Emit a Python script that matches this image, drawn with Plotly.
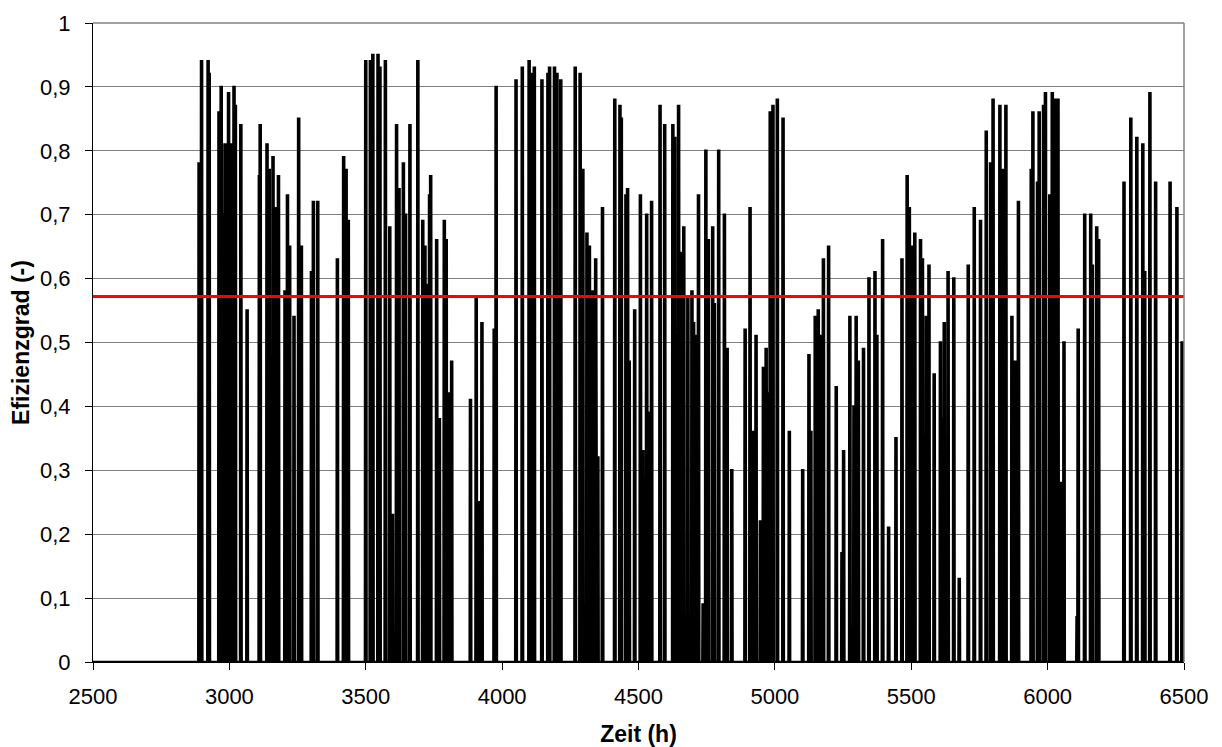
import plotly.graph_objects as go

# Spike (day) positions in hours and peak efficiency values
spike_hours = [
    2889, 2898, 2922, 2926, 2962, 2970, 2973, 2984, 2997, 3006, 3017, 3022, 3042, 3065,
    3110, 3113, 3138, 3146, 3160, 3169, 3180, 3204, 3213, 3221, 3237, 3254, 3264,
    3301, 3308, 3324, 3396, 3419, 3428, 3436,
    3500, 3517, 3526, 3545, 3552, 3572, 3588, 3598, 3613, 3622, 3638, 3646, 3662,
    3691, 3709, 3717, 3728, 3734, 3738, 3760, 3770, 3788, 3795, 3806, 3815,
    3884, 3905, 3913, 3926, 3971, 3978, 4051, 4074, 4099, 4110,
    4118, 4146, 4168, 4174, 4192, 4201, 4215, 4268, 4286, 4296, 4311, 4320, 4326,
    4332, 4343, 4351, 4368, 4413, 4432, 4437, 4454, 4460, 4466, 4486, 4507, 4516,
    4530, 4536, 4548, 4579, 4596, 4626, 4633, 4647, 4657, 4666, 4681, 4696, 4702,
    4708, 4720, 4737, 4747,
    4756, 4772, 4778, 4794, 4815, 4825, 4842, 4891, 4909, 4919, 4931, 4947, 4958,
    4968, 4974, 4983, 4993, 5009, 5030, 5053, 5102, 5125, 5132, 5148, 5159, 5170,
    5178, 5197, 5225, 5246, 5252, 5275, 5290, 5298, 5306, 5325, 5345, 5367, 5374, 5395,
    5417, 5444, 5466, 5485, 5493, 5505, 5513, 5534, 5541, 5555, 5565, 5584, 5607,
    5614, 5621, 5635, 5656, 5676, 5709, 5731, 5754, 5775, 5791, 5800, 5825, 5837,
    5847, 5869, 5880, 5893, 5940, 5946, 5963, 5969, 5985, 5992, 6008, 6017,
    6028, 6038, 6050, 6060, 6108, 6112, 6136, 6158, 6164, 6180, 6187,
    6280, 6305, 6327, 6349, 6356, 6375, 6396, 6449, 6474, 6493,
]
spike_values = [
    0.78, 0.94, 0.94, 0.92, 0.86, 0.90, 0.70, 0.81, 0.89, 0.81, 0.90, 0.87, 0.84, 0.55,
    0.76, 0.84, 0.81, 0.77, 0.79, 0.71, 0.76, 0.58, 0.73, 0.65, 0.54, 0.85, 0.65,
    0.61, 0.72, 0.72, 0.63, 0.79, 0.77, 0.69,
    0.94, 0.94, 0.95, 0.95, 0.93, 0.94, 0.68, 0.23, 0.84, 0.74, 0.78, 0.70, 0.84,
    0.94, 0.69, 0.65, 0.59, 0.73, 0.76, 0.66, 0.38, 0.69, 0.66, 0.42, 0.47,
    0.41, 0.57, 0.25, 0.53, 0.52, 0.90, 0.91, 0.93, 0.94, 0.92,
    0.93, 0.91, 0.92, 0.93, 0.93, 0.92, 0.91, 0.93, 0.92, 0.77, 0.67, 0.65, 0.52,
    0.58, 0.63, 0.32, 0.71, 0.88, 0.87, 0.85, 0.73, 0.74, 0.47, 0.55, 0.73, 0.33,
    0.70, 0.39, 0.72, 0.87, 0.84, 0.84, 0.82, 0.87, 0.64, 0.68, 0.57, 0.58, 0.53,
    0.51, 0.73, 0.09, 0.80,
    0.66, 0.68, 0.56, 0.80, 0.70, 0.49, 0.30, 0.52, 0.71, 0.36, 0.51, 0.22, 0.46,
    0.49, 0.42, 0.86, 0.87, 0.88, 0.85, 0.36, 0.30, 0.48, 0.36, 0.54, 0.55, 0.51,
    0.63, 0.65, 0.43, 0.17, 0.33, 0.54, 0.40, 0.54, 0.47, 0.49, 0.60, 0.61, 0.51, 0.66,
    0.21, 0.35, 0.63, 0.76, 0.71, 0.65, 0.67, 0.66, 0.63, 0.54, 0.62, 0.45, 0.50,
    0.38, 0.53, 0.61, 0.60, 0.13, 0.62, 0.71, 0.69, 0.83, 0.78, 0.88, 0.87, 0.77,
    0.87, 0.54, 0.47, 0.72, 0.77, 0.86, 0.75, 0.86, 0.87, 0.89, 0.73, 0.89,
    0.88, 0.88, 0.28, 0.50, 0.07, 0.52, 0.70, 0.70, 0.62, 0.68, 0.66,
    0.75, 0.85, 0.82, 0.81, 0.61, 0.89, 0.75, 0.75, 0.71, 0.50,
]

mean_efficiency = 0.572
x_range = [2500, 6500]
x_ticks = [2500, 3000, 3500, 4000, 4500, 5000, 5500, 6000, 6500]
y_ticks = [0, 0.1, 0.2, 0.3, 0.4, 0.5, 0.6, 0.7, 0.8, 0.9, 1.0]
y_tick_labels = ["0", "0,1", "0,2", "0,3", "0,4", "0,5", "0,6", "0,7", "0,8", "0,9", "1"]

# Build the trace: each operating day rises from zero, holds, and falls back
xs = [x_range[0]]
ys = [0]
for h, v in sorted(zip(spike_hours, spike_values)):
    xs += [h - 3, h - 2, h + 2, h + 3]
    ys += [0, v, v, 0]
xs.append(x_range[1])
ys.append(0)

fig = go.Figure()
fig.add_trace(go.Scatter(x=xs, y=ys, mode="lines",
                         line=dict(color="black", width=2.5), showlegend=False,
                         hoverinfo="skip"))
fig.add_trace(go.Scatter(x=x_range, y=[mean_efficiency, mean_efficiency], mode="lines",
                         line=dict(color="#FF0000", width=3), showlegend=False))

font_family = "Liberation Sans, Arial, sans-serif"
fig.update_layout(
    width=1214, height=739,
    margin=dict(l=85, r=38, t=15, b=85),
    plot_bgcolor="white", paper_bgcolor="white",
    font=dict(family=font_family, size=22, color="black"),
    xaxis=dict(
        range=x_range, tickvals=x_ticks, ticktext=[str(t) for t in x_ticks],
        showgrid=False, zeroline=False, automargin=False,
        showline=True, linecolor="black", linewidth=1,
        ticks="outside", ticklen=7, tickcolor="black",
        tickfont=dict(size=22),
        ticklabelstandoff=8,
        title=dict(text="<b>Zeit (h)</b>", font=dict(size=23), standoff=17),
    ),
    yaxis=dict(
        range=[0, 1], tickvals=y_ticks, ticktext=y_tick_labels,
        showgrid=True, gridcolor="#808080", gridwidth=1,
        zeroline=False, automargin=False,
        showline=True, linecolor="black", linewidth=1,
        ticks="outside", ticklen=7, tickcolor="black",
        tickfont=dict(size=22),
        ticklabelstandoff=10,
        title=dict(text="<b>Efizienzgrad (-)</b>", font=dict(size=23), standoff=14),
    ),
    shapes=[
        dict(type="line", xref="paper", yref="paper", x0=0, x1=1, y0=1, y1=1,
             line=dict(color="#808080", width=1.5)),
        dict(type="line", xref="paper", yref="paper", x0=1, x1=1, y0=0, y1=1,
             line=dict(color="#808080", width=1.5)),
    ],
)

fig.write_html("out.html")
